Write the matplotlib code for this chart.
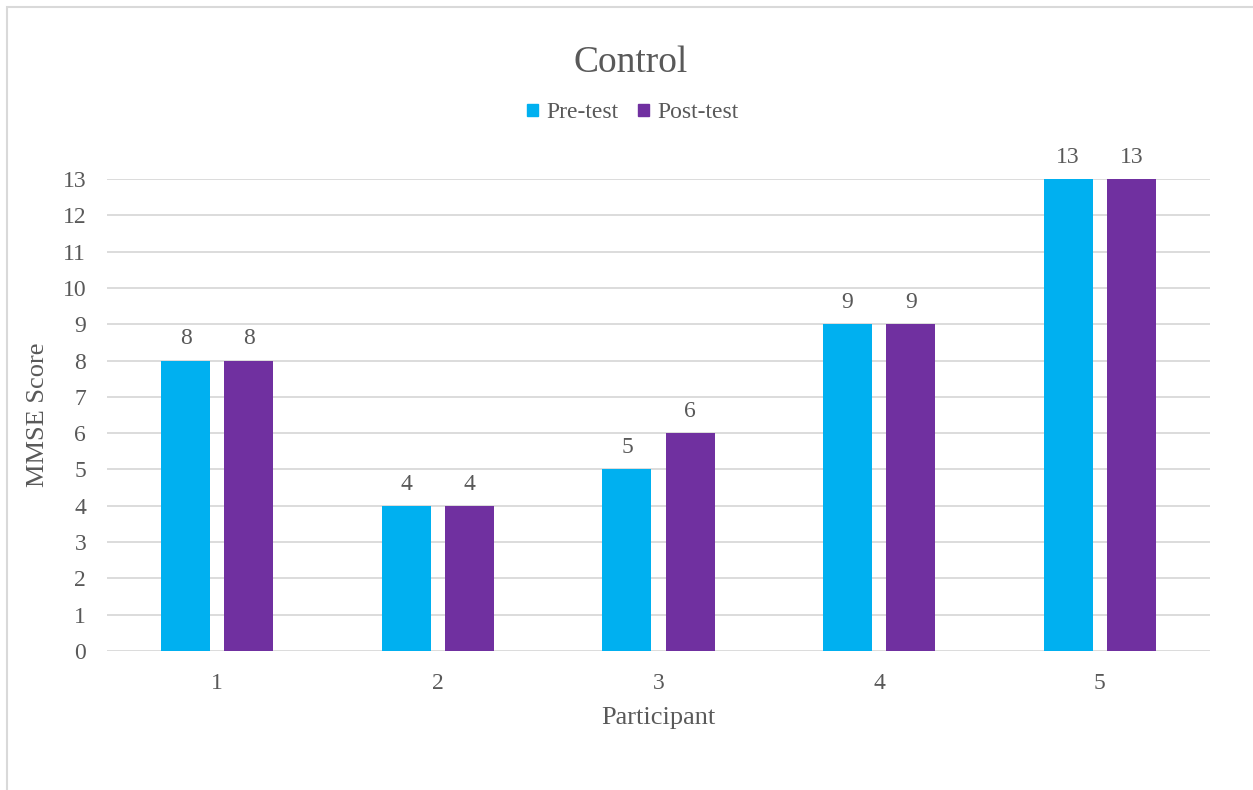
import numpy as np
import matplotlib.pyplot as plt
from matplotlib.patches import Patch, Rectangle

participants = ["1", "2", "3", "4", "5"]
pre_test = [8, 4, 5, 9, 13]
post_test = [8, 4, 6, 9, 13]
y_ticks = list(range(0, 14))

PRE_COLOR = "#00B0F0"
POST_COLOR = "#7030A0"
TEXT = "#595959"
GRID = "#D9D9D9"

plt.rcParams["font.family"] = ["Liberation Serif", "DejaVu Serif"]

fig = plt.figure(figsize=(12.53, 7.9), dpi=100)
ax = fig.add_axes([0.0854, 0.1759, 0.8803, 0.5975])

x = np.arange(len(participants))
w = 0.222
off = 0.143
b1 = ax.bar(x - off, pre_test, w, color=PRE_COLOR, zorder=3)
b2 = ax.bar(x + off, post_test, w, color=POST_COLOR, zorder=3)

# value labels above each bar
for bars, vals in [(b1, pre_test), (b2, post_test)]:
    for r, v in zip(bars, vals):
        ax.annotate(str(v), (r.get_x() + r.get_width() / 2, v),
                    xytext=(0, 8), textcoords="offset points",
                    ha="center", va="bottom", fontsize=17, color=TEXT,
                    annotation_clip=False)

ax.set_xlim(-0.5, len(participants) - 0.5)
ax.set_ylim(0, 13)
ax.set_xticks(x)
ax.set_xticklabels(participants)
ax.set_yticks(y_ticks)
ax.tick_params(axis="both", length=0, labelsize=17, colors=TEXT)
ax.tick_params(axis="x", pad=16)
ax.tick_params(axis="y", pad=15)
ax.grid(axis="y", color=GRID, linewidth=1.3, zorder=0)
for s in ax.spines.values():
    s.set_visible(False)

ax.set_xlabel("Participant", fontsize=19, color=TEXT, labelpad=9)
ax.set_ylabel("MMSE Score", fontsize=19, color=TEXT, labelpad=10)

fig.text(0.5035, 1 - 63 / 790, "Control", ha="center", va="center",
         fontsize=27, color=TEXT)

handles = [Patch(color=PRE_COLOR, label="Pre-test"),
           Patch(color=POST_COLOR, label="Post-test")]
fig.legend(handles=handles, loc="center", bbox_to_anchor=(0.505, 1 - 113 / 790),
           ncol=2, frameon=False, fontsize=17, labelcolor=TEXT,
           handlelength=0.45, handleheight=0.45, handletextpad=0.35,
           columnspacing=0.85)

# light frame around the chart area
fig.patches.append(Rectangle((7 / 1253, -0.1), 1.2, 1.1 - 7 / 790,
                             transform=fig.transFigure, fill=False,
                             edgecolor=GRID, linewidth=1.5))

fig.savefig("out.png", dpi=100, facecolor="white")
